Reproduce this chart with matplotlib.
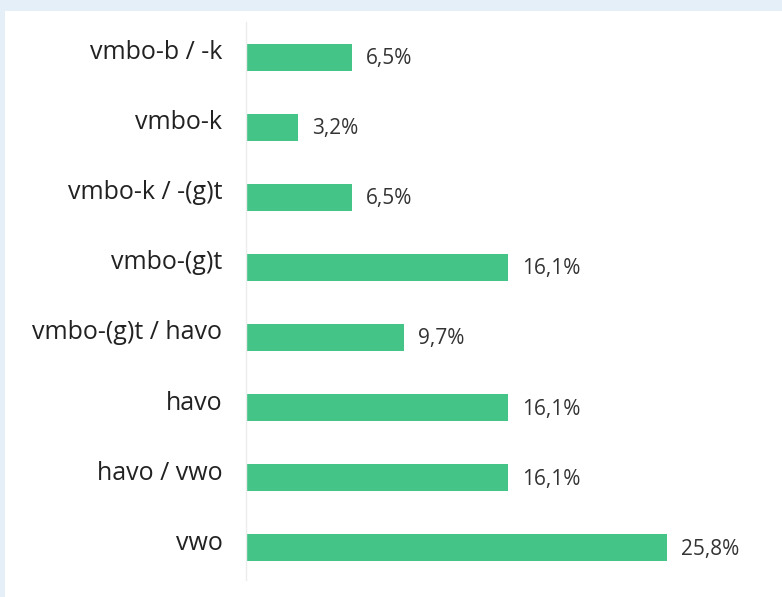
import matplotlib
matplotlib.use("Agg")
import matplotlib.pyplot as plt
import matplotlib.transforms as mtrans
from matplotlib.patches import Rectangle

categories = ["vmbo-b / -k", "vmbo-k", "vmbo-k / -(g)t", "vmbo-(g)t",
              "vmbo-(g)t / havo", "havo", "havo / vwo", "vwo"]
values = [6.5, 3.2, 6.5, 16.1, 9.7, 16.1, 16.1, 25.8]
value_labels = ["6,5%", "3,2%", "6,5%", "16,1%", "9,7%", "16,1%", "16,1%", "25,8%"]

plt.rcParams['font.family'] = ['Open Sans', 'DejaVu Sans']

W, H = 782, 597
fig = plt.figure(figsize=(W / 100, H / 100), dpi=100)
fig.patch.set_facecolor("#e4eff8")
bg = fig.add_axes([5 / W, 0, 1 - 5 / W, (H - 11) / H], zorder=-5)
bg.set_axis_off()
bg.add_patch(Rectangle((0, 0), 1, 1, transform=bg.transAxes, facecolor="white", edgecolor="none"))

ax = fig.add_axes([246 / W, (H - 580) / H, (760 - 246) / W, 558 / H], zorder=1)
ax.set_facecolor("none")
y = list(range(len(categories)))
ax.barh(y, values, height=0.385, color="#44c487", edgecolor="none")
ax.set_xlim(0, (760 - 246) / 16.3)
ax.set_ylim(7.46, -0.5)
ax.set_yticks(y)
ax.set_yticklabels(categories, fontsize=18, color="#222222", va="baseline")
ax.tick_params(axis="y", length=0, pad=17)
shift = mtrans.ScaledTranslation(0, -2 / 100, fig.dpi_scale_trans)
for t in ax.get_yticklabels():
    t.set_transform(t.get_transform() + shift)
ax.set_xticks([])
for s in ["top", "right", "bottom"]:
    ax.spines[s].set_visible(False)
ax.spines["left"].set_color("#ececec")
ax.spines["left"].set_linewidth(1)

for yi, v, lab in zip(y, values, value_labels):
    ax.annotate(lab, (v, yi), xytext=(14, -7), textcoords="offset pixels",
                va="baseline", ha="left", fontsize=15, color="#333333")

fig.savefig("out.png", dpi=100, facecolor=fig.get_facecolor())
